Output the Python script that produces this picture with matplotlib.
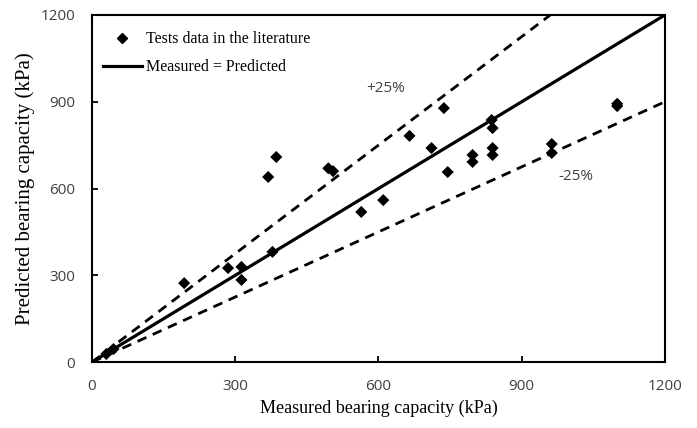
import numpy as np
import matplotlib
matplotlib.use('Agg')
import matplotlib.pyplot as plt
from matplotlib.lines import Line2D

# Measured vs predicted bearing capacity (kPa)
measured = [30, 45, 193, 285, 313, 313, 378, 369, 386, 495, 505,
            564, 610, 665, 711, 737, 745, 797, 797, 837, 839, 839, 839,
            963, 963, 1100, 1100]
predicted = [28, 45, 273, 325, 329, 284, 381, 640, 709, 670, 660,
             519, 560, 782, 740, 878, 657, 716, 692, 837, 809, 740, 716,
             754, 723, 885, 893]

ticks = [0, 300, 600, 900, 1200]
upper = 1.25
lower = 0.75

fig = plt.figure(figsize=(6.97, 4.28), dpi=100)
ax = fig.add_axes([0.132, 0.154, 0.822, 0.811])

line_x = np.array([0, 1200])
ax.plot(line_x, line_x, color='black', lw=2.3, zorder=2)
ax.plot(line_x, upper * line_x, color='black', lw=2, ls=(0, (3.5, 2.5)), zorder=2)
ax.plot(line_x, lower * line_x, color='black', lw=2, ls=(0, (3.5, 2.5)), zorder=2)
ax.scatter(measured, predicted, marker='D', s=38, color='black', zorder=3,
           edgecolors='none')

ax.text(615, 947, '+25%', family='Open Sans', fontsize=11, color='#404040',
        ha='center', va='center')
ax.text(1013, 643, '-25%', family='Open Sans', fontsize=11, color='#404040',
        ha='center', va='center')

ax.set_xlim(0, 1200)
ax.set_ylim(0, 1200)
ax.set_xticks(ticks)
ax.set_yticks(ticks)
ax.tick_params(direction='in', length=4, width=1.3, colors='black',
               labelcolor='#404040', labelsize=11, pad=12)
for lab in ax.get_xticklabels() + ax.get_yticklabels():
    lab.set_family('Open Sans')
for s in ax.spines.values():
    s.set_linewidth(1.5)

ax.set_xlabel('Measured bearing capacity (kPa)', family='Liberation Serif',
              fontsize=13, labelpad=4)
ax.set_ylabel('Predicted bearing capacity (kPa)', family='Liberation Serif',
              fontsize=15, labelpad=4)

handles = [
    Line2D([], [], marker='D', color='black', ls='none', ms=5),
    Line2D([], [], color='black', lw=2.3),
]
ax.legend(handles, ['Tests data in the literature', 'Measured = Predicted'],
          loc='upper left', bbox_to_anchor=(0.0, 0.985), frameon=False,
          prop={'family': 'Liberation Serif', 'size': 11.5},
          handlelength=2.4, handletextpad=0.3, borderaxespad=0.3, labelspacing=0.75)

fig.savefig('out.png', dpi=100)
